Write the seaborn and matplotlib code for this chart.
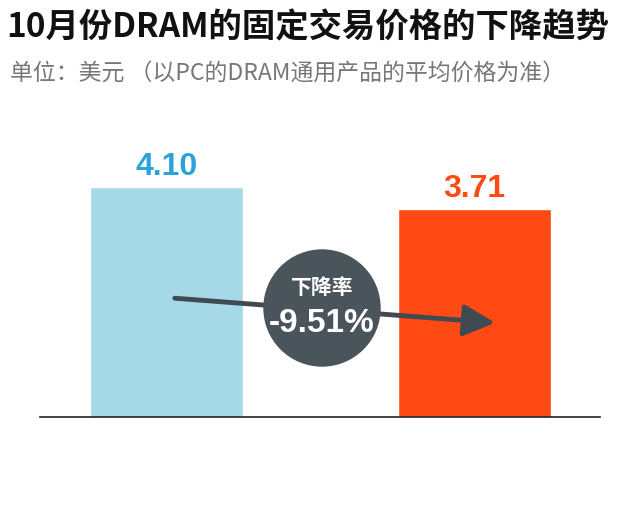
import matplotlib
matplotlib.use("Agg")
import matplotlib.pyplot as plt
import seaborn as sns
import pandas as pd

CATEGORIES = ["9月", "10月"]
PRICES = [4.10, 3.71]
COLORS = ["#a6d9e8", "#ff4a14"]
LABEL_COLORS = ["#2aa3d6", "#ff4a14"]
DROP = "-9.51%"

sns.set_theme(style="white")
plt.rcParams["font.family"] = ["Noto Sans CJK SC", "DejaVu Sans"]

W, H = 640, 521
fig = plt.figure(figsize=(W / 100, H / 100), dpi=100)
# axes spans x 40..600 px, y 130..417 px from top
ax = fig.add_axes([40 / W, (H - 417) / H, 560 / W, 287 / H])

df = pd.DataFrame({"cat": CATEGORIES, "price": PRICES})
sns.barplot(data=df, x="cat", y="price", hue="cat", palette=COLORS,
            saturation=1, width=0.497, legend=False, ax=ax)
ax.set_xlim(-0.411, 1.407)
ax.set_ylim(0, 5.125)
ax.set_xticks([])
ax.set_yticks([])
ax.set_xlabel("")
ax.set_ylabel("")
for s in ["top", "right", "left"]:
    ax.spines[s].set_visible(False)
ax.spines["bottom"].set_color("#222222")
ax.spines["bottom"].set_linewidth(1.2)

for i, (v, c) in enumerate(zip(PRICES, LABEL_COLORS)):
    ax.text(i, v + 0.1, f"{v:.2f}", ha="center", va="bottom",
            fontsize=23, fontweight="bold", color=c, family="Liberation Sans")


def px(x, y):
    return (x / W, 1 - y / H)


fig.text(*px(6, 28), "10月份DRAM的固定交易价格的下降趋势", fontsize=24,
         fontweight="bold", color="#111111", va="center")
fig.text(*px(10, 73), "单位：美元 （以PC的DRAM通用产品的平均价格为准）",
         fontsize=16.5, color="#777777", va="center")

arrow_col = "#3f4a52"
fig.add_artist(matplotlib.patches.FancyArrowPatch(
    px(172, 298), px(498, 323), transform=fig.transFigure,
    arrowstyle="-|>,head_length=12,head_width=6", color=arrow_col,
    linewidth=3.5, mutation_scale=1.6))
circle = matplotlib.patches.Ellipse(px(322, 308), 116 / W, 116 / H,
                                    transform=fig.transFigure,
                                    color="#4a545b", zorder=5)
fig.add_artist(circle)
fig.text(*px(322, 287), "下降率", fontsize=15, fontweight="bold",
         color="white", ha="center", va="center", zorder=6)
fig.text(*px(322, 323), DROP, fontsize=24, fontweight="bold",
         color="white", ha="center", va="center", zorder=6,
         family="Liberation Sans")

fig.savefig("out.png", dpi=100, facecolor="white")
